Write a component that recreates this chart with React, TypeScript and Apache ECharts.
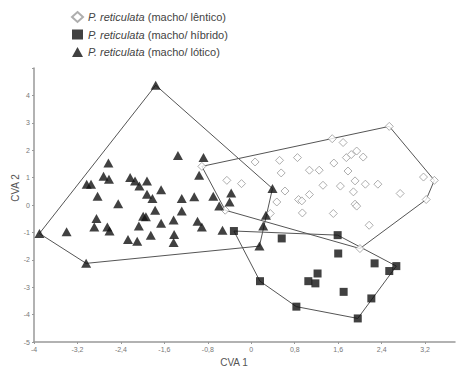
import React, { useEffect, useRef } from "react";
import * as echarts from "echarts";

// CVA scores: [CVA 1, CVA 2]
const lotico: number[][] = [
  [-1.76, 4.37], [-3.9, -1.04], [-3.04, -2.13], [-3.4, -0.98], [-2.63, 1.53],
  [-2.72, 1.05], [-2.62, 0.94], [-3.03, 0.76], [-2.95, 0.76], [-2.83, 0.32],
  [-2.45, 0.05], [-2.23, 1.0], [-2.14, 0.88], [-2.06, 0.69], [-1.92, 0.88],
  [-1.66, 0.56], [-1.92, 0.39], [-1.82, 0.24], [-1.77, -0.19], [-1.99, -0.41],
  [-1.94, -0.43], [-1.66, -0.67], [-2.07, -0.77], [-1.85, -1.1], [-2.27, -1.26],
  [-2.1, -1.32], [-2.85, -0.49], [-2.89, -0.8], [-2.65, -0.8], [-2.61, -0.95],
  [-1.35, 1.81], [-0.88, 1.73], [-0.96, 1.09], [-1.28, 0.24], [-1.05, 0.3],
  [-1.28, -0.22], [-1.43, -0.55], [-0.99, -0.59], [-0.91, -0.8], [-1.42, -1.08],
  [-1.43, -1.37], [-0.7, 0.32], [-0.37, 0.44], [-0.4, 0.11], [-0.59, -0.04],
  [-0.53, -0.92], [0.39, 0.6], [0.27, -0.37], [0.22, -0.77], [0.15, -1.5],
];

const hibrido: number[][] = [
  [-0.32, -0.95], [0.56, -1.22], [1.59, -1.1], [1.6, -1.77], [2.27, -2.13],
  [2.67, -2.23], [2.54, -2.41], [1.22, -2.5], [1.05, -2.78], [1.18, -2.86],
  [1.7, -3.17], [2.21, -3.41], [0.16, -2.78], [0.83, -3.71], [1.96, -4.14],
];

const lentico: number[][] = [
  [-0.91, 1.41], [2.54, 2.87], [3.37, 0.9], [3.22, 0.2], [2.0, -1.59], [-0.48, -0.19],
  [-0.45, 0.9], [-0.18, 0.78], [0.07, 1.57], [0.52, 1.63], [0.85, 1.73], [0.55, 1.17],
  [1.07, 1.27], [1.25, 1.27], [1.52, 1.53], [1.49, 2.42], [1.69, 2.28], [1.75, 1.73],
  [1.84, 1.84], [1.94, 1.97], [2.06, 1.75], [1.78, 1.24], [1.91, 0.88], [2.1, 0.76],
  [2.33, 0.76], [1.64, 0.69], [1.32, 0.72], [0.62, 0.51], [1.07, 0.38], [0.87, 0.2],
  [0.93, 0.15], [0.47, 0.11], [0.35, -0.31], [0.94, -0.29], [1.51, -0.31], [1.88, 0.48],
  [1.91, 0.03], [1.94, -0.04], [2.17, -0.74], [2.74, 0.42], [3.17, 1.02],
];

const groupNames = ["lêntico", "híbrido", "lótico"];
const xName = "CVA 1";
const yName = "CVA 2";

function convexHull(points: number[][]): number[][] {
  const p = points.slice().sort((a, b) => (a[0] - b[0]) || (a[1] - b[1]));
  const cross = (o: number[], a: number[], b: number[]) =>
    (a[0] - o[0]) * (b[1] - o[1]) - (a[1] - o[1]) * (b[0] - o[0]);
  const lower: number[][] = [];
  for (const pt of p) {
    while (lower.length >= 2 && cross(lower[lower.length - 2], lower[lower.length - 1], pt) <= 0) lower.pop();
    lower.push(pt);
  }
  const upper: number[][] = [];
  for (let i = p.length - 1; i >= 0; i--) {
    const pt = p[i];
    while (upper.length >= 2 && cross(upper[upper.length - 2], upper[upper.length - 1], pt) <= 0) upper.pop();
    upper.push(pt);
  }
  upper.pop();
  lower.pop();
  const h = lower.concat(upper);
  h.push(h[0]);
  return h;
}

const FONT = "Liberation Sans, Arial, sans-serif";

function fmtTick(v: number): string {
  const r = Math.round(v * 10) / 10;
  if (Math.abs(r) < 1e-9) return "0";
  if (Number.isInteger(r)) return String(r);
  return r.toFixed(1).replace(".", ",");
}

export default function App() {
  const ref = useRef<HTMLDivElement>(null);
  useEffect(() => {
    const chart = echarts.init(ref.current!, null, { renderer: "svg" });
    const hullStyle = { color: "#555", width: 1 };
    chart.setOption({
      animation: false,
      backgroundColor: "#fff",
      grid: { left: 34, right: 6, top: 68, bottom: 26 },
      legend: {
        orient: "vertical",
        left: 71,
        top: 11,
        itemWidth: 11,
        itemHeight: 10,
        itemGap: 5.5,
        padding: 0,
        data: groupNames,
        formatter: (n: string) => `{i|P. reticulata} (macho/ ${n})`,
        textStyle: {
          fontSize: 11,
          lineHeight: 12,
          color: "#444",
          fontFamily: FONT,
          rich: { i: { fontStyle: "italic", fontSize: 11, lineHeight: 12, color: "#444", fontFamily: FONT } },
        },
      },
      xAxis: {
        type: "value",
        min: -4,
        max: 3.75,
        interval: 0.8,
        axisLine: { onZero: false, lineStyle: { color: "#999", width: 1.5 } },
        axisTick: { show: true, length: 2, lineStyle: { color: "#999" } },
        splitLine: { show: false },
        axisLabel: {
          fontSize: 7,
          color: "#777",
          fontFamily: FONT,
          margin: 4,
          showMaxLabel: false,
          formatter: (v: number) => {
            const k = (v + 4) / 0.8;
            return Math.abs(k - Math.round(k)) < 1e-6 ? fmtTick(v) : "";
          },
        },
      },
      yAxis: {
        type: "value",
        min: -5,
        max: 5,
        interval: 1,
        axisLine: { show: true, onZero: false, lineStyle: { color: "#999", width: 1.5 } },
        axisTick: { show: true, length: 2, lineStyle: { color: "#999" } },
        splitLine: { show: false },
        axisLabel: {
          fontSize: 7,
          color: "#777",
          fontFamily: FONT,
          margin: 4,
          formatter: (v: number) => (v >= 5 ? "" : fmtTick(v)),
        },
      },
      graphic: [
        {
          type: "text",
          x: 234,
          y: 362,
          style: { text: xName, fontSize: 10, fill: "#555", fontFamily: FONT, align: "center", verticalAlign: "middle" },
        },
        {
          type: "text",
          x: 15,
          y: 188,
          rotation: Math.PI / 2,
          style: { text: yName, fontSize: 10, fill: "#555", fontFamily: FONT, align: "center", verticalAlign: "middle" },
        },
      ],
      series: [
        { type: "line", data: convexHull(lentico), symbol: "none", lineStyle: hullStyle, silent: true, z: 1 },
        { type: "line", data: convexHull(hibrido), symbol: "none", lineStyle: hullStyle, silent: true, z: 1 },
        { type: "line", data: convexHull(lotico), symbol: "none", lineStyle: hullStyle, silent: true, z: 1 },
        {
          name: groupNames[0],
          type: "scatter",
          data: lentico,
          symbol: "diamond",
          symbolSize: 8,
          itemStyle: { color: "#fff", borderColor: "#9a9a9a", borderWidth: 1 },
          z: 3,
        },
        {
          name: groupNames[1],
          type: "scatter",
          data: hibrido,
          symbol: "rect",
          symbolSize: 8,
          itemStyle: { color: "#111" },
          z: 3,
        },
        {
          name: groupNames[2],
          type: "scatter",
          data: lotico,
          symbol: "triangle",
          symbolSize: [10, 9],
          itemStyle: { color: "#111" },
          z: 3,
        },
      ],
    });
    return () => chart.dispose();
  }, []);
  return <div ref={ref} style={{ width: 461, height: 368, position: "absolute", left: 0, top: 0 }} />;
}
